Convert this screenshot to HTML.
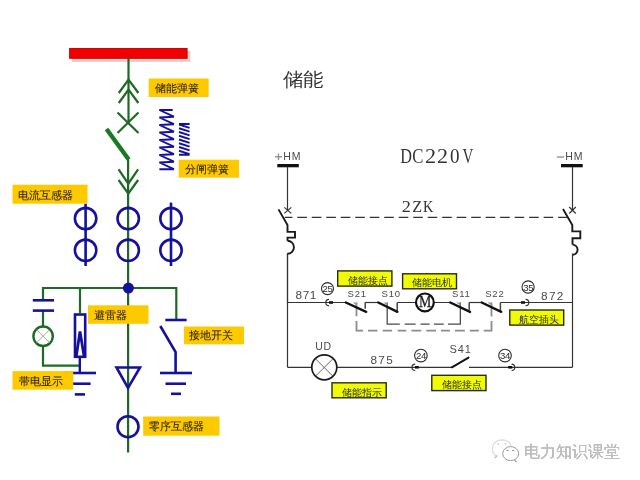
<!DOCTYPE html>
<html><head><meta charset="utf-8">
<style>
html,body{margin:0;padding:0;background:#fff;width:640px;height:480px;overflow:hidden}
svg{display:block;will-change:transform}
.cn{font-family:"Liberation Sans",sans-serif}
.lb{fill:#fdca00}
.lt{font-family:"Liberation Sans",sans-serif;font-size:11px;fill:#2a1e08;stroke:#2a1e08;stroke-width:0.08px}
.ry{fill:#effc06;stroke:#2a2a10;stroke-width:1.4}
.rt{font-family:"Liberation Sans",sans-serif;font-size:10px;fill:#2a2a00}
.num{font-family:"Liberation Sans",sans-serif;font-size:12px;fill:#444}
</style></head><body>
<svg width="640" height="480" viewBox="0 0 640 480">
<!-- ============ LEFT: switchgear ============ -->
<!-- busbar -->
<rect x="72" y="51" width="118.5" height="11" fill="#e2d2d2"/>
<rect x="69.6" y="48.5" width="117.5" height="9.8" fill="#f20000" stroke="#c80808" stroke-width="1"/>

<g stroke="#1e6a24" stroke-width="2.2" fill="none" stroke-linecap="butt">
  <!-- main vertical -->
  <line x1="128.5" y1="58" x2="128.5" y2="122.5"/>
  <polyline points="118.8,93 128.5,79.5 138.4,93"/>
  <polyline points="118.8,103 128.5,89.5 138.4,103"/>
  <line x1="117.5" y1="112.5" x2="138.5" y2="133"/>
  <line x1="138.5" y1="112.5" x2="117.5" y2="133"/>
  <line x1="128.1" y1="159" x2="128.1" y2="452.5"/>
  <polyline points="118.6,169.4 128.3,183.7 138.1,169.4"/>
  <polyline points="118.6,180 128.3,193.7 138.1,180"/>
  <!-- bus -->
  <polyline points="43,300 43,288 176.3,288 176.3,320"/>
  <line x1="80" y1="288" x2="80" y2="313"/>
  <line x1="43" y1="311" x2="43" y2="326"/>
  <polyline points="43,346 43,365.7 80,365.7"/>
</g>
<!-- breaker blade -->
<line x1="106.5" y1="129" x2="128.7" y2="159.5" stroke="#1a7a22" stroke-width="4.4"/>

<!-- springs -->
<path d="M172.7,110 L159.4,110 L173.9,116.70 L159.4,117.50 L173.9,124.20 L159.4,125.00 L173.9,131.70 L159.4,132.50 L173.9,139.20 L159.4,140.00 L173.9,146.70 L159.4,147.50 L173.9,154.20 L159.4,155.00 L173.9,161.70 L159.4,162.50 L173.9,169.20 L159.4,169.20" stroke="#15119c" stroke-width="1.9" fill="none" stroke-linejoin="miter"/>
<path d="M189.6,124 L179,124 M179,124.50 L189.6,127.80 M179,128.25 L189.6,131.55 M179,132.00 L189.6,135.30 M179,135.75 L189.6,139.05 M179,139.50 L189.6,142.80 M179,143.25 L189.6,146.55 M179,147.00 L189.6,150.30 M179,150.75 L189.6,154.05 M179,154.7 L189.6,154.7" stroke="#15119c" stroke-width="1.9" fill="none"/>

<!-- CTs -->
<g stroke="#15119c" stroke-width="2.6" fill="none">
  <line x1="85.6" y1="203.7" x2="85.6" y2="266"/>
  <line x1="171" y1="202.6" x2="171" y2="266"/>
  <circle cx="85.6" cy="218.6" r="10.7"/>
  <circle cx="85.6" cy="250.3" r="10.7"/>
  <circle cx="128.2" cy="218.6" r="10.7"/>
  <circle cx="128.2" cy="250.3" r="10.7"/>
  <circle cx="171" cy="218.6" r="10.7"/>
  <circle cx="171" cy="250.3" r="10.7"/>
</g>
<!-- junction -->
<circle cx="128.4" cy="288.1" r="5.5" fill="#15119c"/>

<!-- capacitor -->
<g stroke="#15119c" stroke-width="2.6">
  <line x1="32.8" y1="300.3" x2="54" y2="300.3"/>
  <line x1="32.8" y1="310.6" x2="54" y2="310.6"/>
</g>
<!-- lamp -->
<circle cx="43.1" cy="336.2" r="9.7" stroke="#1e6a24" stroke-width="2.4" fill="#fff"/>
<g stroke="#9a9a9a" stroke-width="0.9">
  <line x1="36.5" y1="329.6" x2="49.7" y2="342.8"/>
  <line x1="49.7" y1="329.6" x2="36.5" y2="342.8"/>
</g>

<!-- arrester -->
<rect x="75" y="314.5" width="10.2" height="42.3" stroke="#15119c" stroke-width="2.6" fill="#fff"/>
<polyline points="76.3,356 80,331.5 84,356" stroke="#15119c" stroke-width="2.8" fill="none"/>
<line x1="79.8" y1="358" x2="79.8" y2="373" stroke="#15119c" stroke-width="2.4"/>
<g stroke="#15119c" stroke-width="2.6">
  <line x1="64" y1="373" x2="96" y2="373"/>
  <line x1="69" y1="383.7" x2="90.6" y2="383.7"/>
  <line x1="74.8" y1="394.4" x2="85" y2="394.4"/>
</g>

<!-- earthing switch -->
<g stroke="#15119c" stroke-width="2.6" fill="none">
  <line x1="165.3" y1="320" x2="186.6" y2="320"/>
  <polyline points="160.3,326 175.6,352.2 175.6,373"/>
  <line x1="160" y1="373" x2="192" y2="373"/>
  <line x1="165.5" y1="383.7" x2="186" y2="383.7"/>
  <line x1="171" y1="393.8" x2="181" y2="393.8"/>
  <!-- cable terminal -->
  <polygon points="116.5,367.5 140,367.5 128,387.8"/>
  <!-- zero sequence CT -->
  <circle cx="128" cy="426.7" r="10.5"/>
</g>

<!-- left labels -->
<rect class="lb" x="148.7" y="78.5" width="60" height="18.5"/>
<text class="lt" x="154.8" y="92.2">储能弹簧</text>
<rect class="lb" x="178.7" y="159.7" width="60.3" height="18"/>
<text class="lt" x="184.6" y="173.2">分闸弹簧</text>
<rect class="lb" x="12.5" y="184.7" width="75" height="19"/>
<text class="lt" x="18.3" y="199.2">电流互感器</text>
<rect class="lb" x="88" y="305.3" width="60.5" height="18.5"/>
<text class="lt" x="93.7" y="319">避雷器</text>
<rect class="lb" x="184" y="326.5" width="60" height="17.8"/>
<text class="lt" x="189.4" y="339.2">接地开关</text>
<rect class="lb" x="12.5" y="371.1" width="60.7" height="18.6"/>
<text class="lt" x="18.5" y="385.2">带电显示</text>
<rect class="lb" x="143.2" y="416.5" width="76.3" height="19.2"/>
<text class="lt" x="149" y="430.2">零序互感器</text>

<!-- ============ RIGHT: DC circuit ============ -->
<text transform="translate(282.6,86.3) scale(1,0.93)" style="font-family:'Liberation Serif',serif;font-size:20.6px;fill:#333">储能</text>

<g style="font-family:'Liberation Sans',sans-serif;font-size:10.5px;fill:#4a4a4a;letter-spacing:1.1px">
<text x="283.2" y="160">HM</text>
<text x="565.2" y="160">HM</text>
</g>
<g stroke="#8a8a8a" stroke-width="1.3">
<line x1="275" y1="156.8" x2="282" y2="156.8"/>
<line x1="278.5" y1="153.5" x2="278.5" y2="160"/>
<line x1="556.9" y1="157" x2="564" y2="157"/>
</g>
<rect x="277.3" y="164" width="21.5" height="3.3" fill="#111"/>
<rect x="561" y="164" width="21.7" height="3.3" fill="#111"/>

<g style="font-family:'Liberation Serif',serif;font-size:20.3px;fill:#333">
<text transform="translate(400.2,163.2) scale(0.8,1)">D</text>
<text transform="translate(412.33,163.2) scale(0.824,1)">C</text>
<text transform="translate(424.9,163.2) scale(1.09,1)">2</text>
<text transform="translate(437.1,163.2) scale(1.09,1)">2</text>
<text transform="translate(450.0,163.2) scale(0.94,1)">0</text>
<text transform="translate(462.6,163.2) scale(0.74,1)">V</text>
</g>
<g style="font-family:'Liberation Serif',serif;font-size:17.2px;fill:#333">
<text transform="translate(401.7,211.6) scale(1.06,1)">2</text>
<text transform="translate(412.35,211.6) scale(0.94,1)">Z</text>
<text transform="translate(423.0,211.6) scale(0.83,1)">K</text>
</g>

<g stroke="#333" stroke-width="1.2" fill="none">
  <!-- left breaker -->
  <line x1="287.5" y1="167" x2="287.5" y2="210.6"/>
  <line x1="284.3" y1="207.4" x2="291.3" y2="213.4"/>
  <line x1="291.3" y1="207.4" x2="284.3" y2="213.4"/>
  <polyline points="278.5,209.4 287.5,225 287.5,231.9 295,231.9 295,237.6 287.5,237.6 287.5,240.8" stroke-width="1.9" stroke="#1a1a1a"/>
  <path d="M287.5,240.8 A6.45,6.45 0 0 1 287.5,253.7" stroke-width="1.9" stroke="#1a1a1a"/>
  <line x1="287.5" y1="253" x2="287.5" y2="302.5"/>
  <!-- right breaker -->
  <line x1="572.5" y1="167" x2="572.5" y2="210.3"/>
  <line x1="569.2" y1="207" x2="575.8" y2="213.5"/>
  <line x1="575.8" y1="207" x2="569.2" y2="213.5"/>
  <polyline points="563,209 572.3,225 572.3,231.4 580.3,231.4 580.3,238.2 572.5,238.2 572.5,244.6" stroke-width="1.9" stroke="#1a1a1a"/>
  <path d="M572.5,244.6 A5.1,5.1 0 0 1 572.5,254.8" stroke-width="1.9" stroke="#1a1a1a"/>
  <line x1="572.5" y1="253.5" x2="572.5" y2="367.3"/>
  <!-- 2ZK dashed -->
  <line x1="284.7" y1="217.3" x2="567" y2="217.3" stroke-dasharray="9.6,4.89" stroke-dashoffset="1.89"/>
  <!-- main loop -->
  <line x1="287.5" y1="254" x2="287.5" y2="367.3"/>
  <line x1="287.5" y1="302.5" x2="345.8" y2="302.5"/>
  <line x1="365.2" y1="302.5" x2="378.3" y2="302.5"/>
  <line x1="397.2" y1="302.5" x2="450.3" y2="302.5"/>
  <line x1="469.2" y1="302.5" x2="481.7" y2="302.5"/>
  <line x1="500.4" y1="302.5" x2="572.5" y2="302.5"/>
  <!-- bottom -->
  <line x1="287.5" y1="367.3" x2="451.9" y2="367.3"/>
  <line x1="469" y1="367.3" x2="572.5" y2="367.3"/>
</g>
<!-- fixed contacts -->
<g stroke="#444" stroke-width="1.5">
  <line x1="365.2" y1="302.5" x2="365.2" y2="308.8"/>
  <line x1="397.2" y1="302.5" x2="397.2" y2="311"/>
  <line x1="469.2" y1="302.5" x2="469.2" y2="310.5"/>
  <line x1="500.4" y1="302.5" x2="500.4" y2="311"/>
</g>
<!-- inner dashed -->
<g stroke="#4a4a4a" stroke-width="1.3" fill="none">
  <path d="M387.2,302.5 V324.2 H399.8 M404.7,324.2 H415.6 M420.5,324.2 H429.7 M433.9,324.2 H443.75 M448,324.2 H460.35 V302.5"/>
</g>
<!-- outer dashed gray -->
<g stroke="#8c8c8c" stroke-width="1.8" fill="none">
  <path d="M356.5,302.5 V316.3 M356.5,321 V330.7 H363.1 M368,330.7 H377.4 M382.8,330.7 H392.1 M397.6,330.7 H406.3 M411.4,330.7 H421.25 M426.2,330.7 H436 M441,330.7 H450 M455,330.7 H464.85 M469.8,330.7 H478.9 M483.8,330.7 H491.5 V321 M491.5,316.4 V302.5"/>
</g>
<!-- linkage notches -->
<g fill="#9a9a9a">
  <polygon points="352.8,302.5 356.8,302.5 356.8,305.8"/>
  <polygon points="383.3,302.5 387.5,302.5 387.5,305.8"/>
  <polygon points="456,302.5 460.6,302.5 460.6,305.8"/>
  <polygon points="487.3,302.5 491.8,302.5 491.8,305.8"/>
</g>

<!-- switch blades -->
<g stroke="#111" stroke-width="2.4" stroke-linecap="round">
  <line x1="345.8" y1="302.5" x2="366.2" y2="311.8"/>
  <line x1="378.3" y1="302.5" x2="397.4" y2="311.8"/>
  <line x1="450.3" y1="302.5" x2="470" y2="311.9"/>
  <line x1="481.7" y1="302.5" x2="501.25" y2="311.8"/>
  <line x1="451.9" y1="367.3" x2="468.5" y2="357.6" stroke-width="2"/>
</g>

<!-- motor -->
<circle cx="424.9" cy="302.4" r="8.9" stroke="#111" stroke-width="2.2" fill="#fff"/>
<text transform="translate(419.1,307) scale(0.78,1)" style="font-family:'Liberation Serif',serif;font-size:17.7px;fill:#1a1a1a;stroke:#1a1a1a;stroke-width:0.3px">M</text>

<!-- lamp UD -->
<circle cx="324.3" cy="367.3" r="12.5" stroke="#1a1a1a" stroke-width="1.7" fill="#fff"/>
<g stroke="#555" stroke-width="0.9">
  <line x1="315.5" y1="358.8" x2="332.9" y2="376.2"/>
  <line x1="332.9" y1="358.8" x2="315.5" y2="376.2"/>
</g>

<!-- terminals -->
<g stroke="#333" stroke-width="1.2" fill="none">
  <path d="M329,299.3 A3.2,3.2 0 0 0 329,305.7"/>
  <path d="M525.6,299.3 A3.2,3.2 0 0 1 525.6,305.7"/>
  <path d="M415.2,364.1 A3.2,3.2 0 0 0 415.2,370.5"/>
  <path d="M511.6,364.1 A3.2,3.2 0 0 1 511.6,370.5"/>
</g>
<g stroke="#111" stroke-width="2.6">
  <line x1="329" y1="302.5" x2="333" y2="302.5"/>
  <line x1="521" y1="302.5" x2="525" y2="302.5"/>
  <line x1="415" y1="367.3" x2="418.8" y2="367.3"/>
  <line x1="508.1" y1="367.3" x2="512.3" y2="367.3"/>
</g>
<!-- circled numbers -->
<g stroke="#2a2a2a" stroke-width="1.1" fill="#fff">
  <circle cx="327.5" cy="288.6" r="6"/>
  <circle cx="528.1" cy="287" r="6.1"/>
  <circle cx="420.9" cy="355.6" r="6.3"/>
  <circle cx="505" cy="355.6" r="6.3"/>
</g>
<g style="font-family:'Liberation Sans',sans-serif;font-size:9.6px;fill:#2a2a2a;letter-spacing:-0.3px" text-anchor="middle">
  <text x="327.6" y="292">25</text>
  <text x="528.2" y="290.5">35</text>
  <text x="421" y="359">24</text>
  <text x="505.1" y="359">34</text>
</g>

<!-- numbers -->
<g style="font-family:'Liberation Sans',sans-serif;font-size:11.8px;fill:#4a4a4a;letter-spacing:1.3px">
  <text x="295.5" y="299.1" style="letter-spacing:0.6px">871</text>
  <text x="541.1" y="299.6">872</text>
  <text x="370.5" y="363.8">875</text>
  <text x="315.3" y="350.3" style="font-size:10.5px;letter-spacing:0.6px">UD</text>
</g>
<g style="font-family:'Liberation Sans',sans-serif;font-size:9.5px;fill:#4a4a4a;letter-spacing:0.8px">
  <text x="347.6" y="297.2">S21</text>
  <text x="381.6" y="297.2">S10</text>
  <text x="452" y="297.2">S11</text>
  <text x="485.2" y="297.2">S22</text>
  <text x="449.6" y="353.2" style="font-size:11px">S41</text>
</g>

<!-- right labels -->
<rect class="ry" x="337.7" y="270.9" width="54.2" height="15.2"/>
<text class="rt" x="347.8" y="284.3">储能接点</text>
<rect class="ry" x="402.6" y="273.8" width="53.9" height="15"/>
<text class="rt" x="412.2" y="286">储能电机</text>
<rect class="ry" x="509.8" y="310" width="53.9" height="15.1"/>
<text class="rt" x="519.4" y="323">航空插头</text>
<rect class="ry" x="332" y="382.8" width="54.2" height="15"/>
<text class="rt" x="342.2" y="395.5">储能指示</text>
<rect class="ry" x="431.8" y="375.3" width="54.2" height="15.3"/>
<text class="rt" x="442.2" y="388">储能接点</text>

<!-- watermark -->
<path d="M496.5,456.5 Q491.5,452 492.5,447.5 Q494,440 502,439.8 Q509.5,440 511,446" stroke="#dadada" stroke-width="1.2" fill="none"/>
<path d="M494.5,458 L497.5,455.5" stroke="#bbb" stroke-width="1.2"/>
<g fill="#d0d0d0"><circle cx="498.3" cy="444" r="0.9"/><circle cx="505.5" cy="443.8" r="0.9"/></g>
<ellipse cx="510.7" cy="453.6" rx="8" ry="7" stroke="#9a9a9a" stroke-width="1" fill="#fff"/>
<path d="M514.5,460 L516.5,462" stroke="#999" stroke-width="1.1"/>
<g stroke="#9a9a9a" stroke-width="1"><line x1="506.5" y1="450.5" x2="508.8" y2="450.5"/><line x1="512" y1="450.5" x2="514.3" y2="450.5"/></g>
<text x="524.3" y="457.4" style="font-family:'Liberation Sans',sans-serif;font-size:15.8px;fill:#8a8a8a">电力知识课堂</text>
<text x="523.8" y="456.9" style="font-family:'Liberation Sans',sans-serif;font-size:15.8px;fill:#c4c4c4">电力知识课堂</text>
</svg>
</body></html>
